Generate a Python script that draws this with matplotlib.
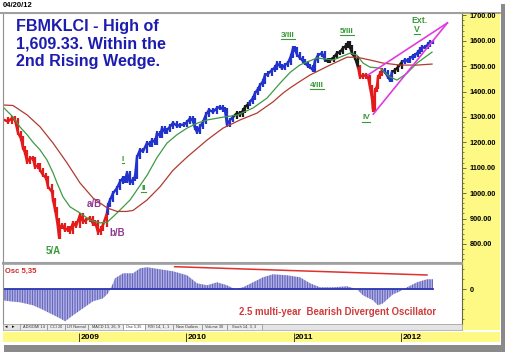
import numpy as np
import matplotlib
matplotlib.use("Agg")
import matplotlib.pyplot as plt
from matplotlib.patches import Rectangle
from matplotlib.lines import Line2D

plt.rcParams['font.family'] = ['Liberation Sans', 'DejaVu Sans']
plt.rcParams['hatch.linewidth'] = 0.6

# FBMKLCI closes, x as fractional year
dates = [2008.292, 2008.339, 2008.376, 2008.404, 2008.432, 2008.460, 2008.479, 2008.497,
         2008.516, 2008.544, 2008.572, 2008.590, 2008.618, 2008.637, 2008.665, 2008.693,
         2008.711, 2008.749, 2008.758, 2008.777, 2008.795, 2008.814, 2008.823, 2008.842,
         2008.870, 2008.898, 2008.916, 2008.944, 2008.972, 2009.009, 2009.037, 2009.065,
         2009.102, 2009.130, 2009.149, 2009.177, 2009.205, 2009.223, 2009.261, 2009.270,
         2009.289, 2009.317, 2009.354, 2009.382, 2009.410, 2009.428, 2009.447, 2009.475,
         2009.503, 2009.521, 2009.540, 2009.568, 2009.596, 2009.633, 2009.661, 2009.680,
         2009.708, 2009.726, 2009.754, 2009.773, 2009.801, 2009.819, 2009.847, 2009.875,
         2009.912, 2009.940, 2009.978, 2010.006, 2010.034, 2010.061, 2010.080, 2010.099,
         2010.127, 2010.155, 2010.183, 2010.210, 2010.248, 2010.285, 2010.313, 2010.341,
         2010.359, 2010.378, 2010.406, 2010.434, 2010.471, 2010.499, 2010.527, 2010.546,
         2010.574, 2010.592, 2010.620, 2010.639, 2010.667, 2010.685, 2010.713, 2010.732,
         2010.760, 2010.797, 2010.825, 2010.844, 2010.872, 2010.890, 2010.918, 2010.946,
         2010.974, 2010.993, 2011.011, 2011.030, 2011.058, 2011.086, 2011.104, 2011.132,
         2011.151, 2011.179, 2011.197, 2011.225, 2011.263, 2011.291, 2011.318, 2011.337,
         2011.374, 2011.402, 2011.430, 2011.458, 2011.486, 2011.505, 2011.523, 2011.542,
         2011.570, 2011.598, 2011.616, 2011.644, 2011.672, 2011.691, 2011.709, 2011.728,
         2011.737, 2011.756, 2011.775, 2011.784, 2011.803, 2011.821, 2011.849, 2011.877,
         2011.896, 2011.914, 2011.942, 2011.970, 2012.007, 2012.035, 2012.063, 2012.082,
         2012.110, 2012.128, 2012.156, 2012.175, 2012.194, 2012.222, 2012.250, 2012.268,
         2012.296]
closes = [1290, 1282, 1295, 1288, 1237, 1215, 1177, 1160,
          1123, 1138, 1135, 1103, 1110, 1091, 1071, 1060,
          1025, 1005, 973, 935, 894, 830, 867, 875,
          855, 862, 850, 883, 870, 914, 887, 895,
          902, 880, 887, 846, 860, 875, 922, 953,
          973, 1000, 1020, 1045, 1060, 1050, 1080, 1040,
          1055, 1063, 1142, 1170, 1165, 1197, 1190, 1209,
          1200, 1236, 1225, 1256, 1240, 1248, 1262, 1276,
          1265, 1268, 1270, 1280, 1295, 1285, 1256, 1240,
          1262, 1280, 1310, 1327, 1320, 1335, 1339, 1330,
          1327, 1270, 1288, 1300, 1315, 1310, 1325, 1339,
          1350, 1359, 1375, 1394, 1410, 1425, 1440, 1465,
          1470, 1485, 1495, 1510, 1500, 1492, 1505, 1512,
          1540, 1571, 1565, 1545, 1532, 1520, 1512, 1500,
          1496, 1484, 1520, 1543, 1551, 1524, 1520, 1524,
          1535, 1551, 1555, 1571, 1580, 1591, 1575, 1551,
          1532, 1496, 1457, 1465, 1460, 1457, 1418, 1374,
          1330, 1406, 1420, 1457, 1470, 1484, 1477, 1457,
          1445, 1477, 1484, 1496, 1516, 1524, 1520, 1532,
          1540, 1543, 1555, 1565, 1575, 1575, 1585, 1595,
          1595]

# bar colouring by trend
trend_start = [2008.0, 2009.27, 2010.46, 2010.58, 2011.31, 2011.60, 2011.83, 2011.92, 2012.02]
trend_color = ['#e41b1b', '#2233cc', '#1a1a1a', '#2233cc', '#1a1a1a', '#e41b1b', '#2233cc', '#1a1a1a', '#2233cc']

# moving averages
ma_fast_x = [2008.292, 2008.385, 2008.451, 2008.516, 2008.572, 2008.637, 2008.702, 2008.758,
             2008.795, 2008.851, 2008.916, 2009.009, 2009.102, 2009.196, 2009.261, 2009.354,
             2009.475, 2009.568, 2009.633, 2009.726, 2009.819, 2009.912, 2010.006, 2010.099,
             2010.192, 2010.341, 2010.471, 2010.620, 2010.750, 2010.872, 2010.965, 2011.058,
             2011.216, 2011.365, 2011.523, 2011.588, 2011.644, 2011.709, 2011.803, 2011.896,
             2011.961, 2012.054, 2012.147, 2012.287]
ma_fast = [1339, 1300, 1260, 1230, 1200, 1170, 1130, 1080,
           1040, 985, 946, 922, 894, 883, 885, 922,
           973, 1030, 1070, 1140, 1197, 1230, 1256, 1275,
           1288, 1299, 1307, 1335, 1374, 1433, 1475, 1505,
           1532, 1524, 1551, 1543, 1512, 1496, 1492, 1457,
           1445, 1472, 1512, 1555]
ma_slow_x = [2008.292, 2008.385, 2008.516, 2008.637, 2008.758, 2008.888, 2009.009, 2009.130,
             2009.261, 2009.354, 2009.447, 2009.503, 2009.633, 2009.754, 2009.875, 2010.006,
             2010.192, 2010.341, 2010.499, 2010.657, 2010.806, 2010.900, 2010.965, 2011.058,
             2011.151, 2011.337, 2011.495, 2011.588, 2011.709, 2011.830, 2011.989, 2012.147,
             2012.287]
ma_slow = [1347, 1345, 1308, 1261, 1197, 1119, 1040, 981,
           942, 928, 928, 932, 973, 1025, 1090, 1142,
           1209, 1256, 1288, 1315, 1359, 1394, 1414, 1440,
           1465, 1504, 1535, 1535, 1524, 1512, 1504, 1504,
           1508]

# rising wedge
wedge_up_x = [2011.69, 2012.43]
wedge_up = [1465, 1670]
wedge_lo_x = [2011.74, 2012.43]
wedge_lo = [1311, 1670]

# oscillator 5,35
osc_x = [2008.292, 2008.357, 2008.451, 2008.572, 2008.655, 2008.730, 2008.823, 2008.870,
         2008.944, 2009.037, 2009.130, 2009.223, 2009.270, 2009.289, 2009.317, 2009.335,
         2009.410, 2009.503, 2009.568, 2009.633, 2009.754, 2009.875, 2010.006, 2010.099,
         2010.192, 2010.285, 2010.378, 2010.453, 2010.527, 2010.620, 2010.713, 2010.806,
         2010.937, 2011.058, 2011.151, 2011.244, 2011.365, 2011.495, 2011.588, 2011.644,
         2011.737, 2011.784, 2011.830, 2011.923, 2011.989, 2012.054, 2012.147, 2012.240,
         2012.296]
osc = [-11, -12, -13, -16, -20, -24, -29, -32,
       -26, -19, -12, -9, -4, 0, 6, 11,
       16, 16, 21, 22, 20, 18, 14, 6,
       4, 7, 4, 0, 2, 7, 12, 15,
       14, 12, 6, 2, 2, 3, 0, -6,
       -11, -16, -14, -5, -2, 2, 7, 10,
       10]
div_x = [2009.89, 2012.24]
div_y = [22.6, 14.3]

# wave labels
wave_text = ['I', 'II', '3/III', '4/III', '5/III', 'IV', 'Ext.', 'V', '5/A', 'a/B', 'b/B']
wave_x = [2009.41, 2009.60, 2010.946, 2011.216, 2011.495, 2011.672, 2012.166, 2012.147, 2008.758, 2009.140, 2009.354]
wave_y = [1134, 1020, 1622, 1425, 1638, 1296, 1681, 1646, 772, 957, 843]
wave_under = [True, True, True, True, True, True, False, True, False, False, False]
wave_color = ['#3a9a3a'] * 9 + ['#8e3a8e', '#8e3a8e']
wave_size = [6, 6, 6, 6, 6, 6, 6.3, 6.3, 7, 7, 7]

years = [2009, 2010, 2011, 2012]
price_ticks = [800, 900, 1000, 1100, 1200, 1300, 1400, 1500, 1600, 1700]
tabs = ['ADX/DMI 14', 'CCI 20', 'LR Normal', 'MACD 13, 26, 9', 'Osc 5,35',
        'RSI 14, 1, 1', 'New Outliers', 'Volume 30', 'Stoch 14, 3, 3']
tab_left = [20, 47, 65, 88, 123, 145, 173, 202, 227, 262]

W, H = 506, 355
fig = plt.figure(figsize=(W / 100, H / 100), dpi=100)


def box(x0, y0, x1, y1):
    # pixel box (top-left origin) -> figure fraction rect
    return [x0 / W, 1 - y1 / H, (x1 - x0) / W, (y1 - y0) / H]


# frame with drop shadow
fig.patches.append(Rectangle((4 / W, 1 - 352 / H), 501 / W, 348 / H, transform=fig.transFigure,
                             fc='#8a8a8a', ec='none', zorder=-3))
fig.patches.append(Rectangle((0, 1 - 345 / H), 501 / W, 345 / H, transform=fig.transFigure,
                             fc='white', ec='none', zorder=-2))

xl = (2008.292, 2012.566)

# yellow price scale
axy = fig.add_axes(box(462, 13, 500, 330), zorder=0)
axy.set_facecolor('#fdf984')
axy.set_xticks([]); axy.set_yticks([])
for s in axy.spines.values():
    s.set_visible(False)

# price panel
ax = fig.add_axes(box(3, 13, 462, 263), zorder=2)
ax.set_xlim(*xl)
ax.set_ylim(725, 1709)
x = np.array(dates)
c = np.array(closes)
cols = [trend_color[np.searchsorted(trend_start, d, side='right') - 1] for d in dates]
for i in range(1, len(x)):
    ax.vlines(x[i], min(c[i - 1], c[i]) - 9, max(c[i - 1], c[i]) + 9, color=cols[i], lw=1.6)
    ax.plot(x[i - 1:i + 1], c[i - 1:i + 1], color=cols[i], lw=1.8, solid_capstyle='butt')
ax.plot(ma_fast_x, ma_fast, color='#3f9a45', lw=0.9)
ax.plot(ma_slow_x, ma_slow, color='#b23a30', lw=0.9)
ax.plot(wedge_up_x, wedge_up, color='#e03be0', lw=1.2)
ax.plot(wedge_lo_x, wedge_lo, color='#e03be0', lw=1.2)

ax.yaxis.tick_right()
ax.set_yticks(price_ticks, ['%.2f' % v for v in price_ticks], fontweight='bold')
ax.set_yticks(np.arange(740, 1709, 20), minor=True)
ax.tick_params(axis='y', which='major', length=3, width=0.6, color='#555533', pad=2.5, labelsize=5.3)
ax.tick_params(axis='y', which='minor', length=1.5, width=0.5, color='#555533')
ax.set_xticks([])
for side in ['top', 'bottom']:
    ax.spines[side].set_color('#a0a0a0')
ax.spines['bottom'].set_linewidth(1.5)
ax.spines['left'].set_color('#909090')
ax.spines['right'].set_color('#666644')
ax.spines['right'].set_linewidth(0.8)

labels = []
for t, lx, ly, u, col, fs in zip(wave_text, wave_x, wave_y, wave_under, wave_color, wave_size):
    labels.append((ax.text(lx, ly, t, color=col, fontsize=fs, fontweight='bold',
                           ha='center', va='center'), u, col))

fig.text(16 / W, 1 - 19.5 / H, 'FBMKLCI - High of\n1,609.33. Within the\n2nd Rising Wedge.',
         color='#1c1cb0', fontsize=11.6, fontweight='bold', va='top', ha='left', linespacing=1.17)

# oscillator panel
ax2 = fig.add_axes(box(3, 264, 462, 324), zorder=2)
ax2.set_xlim(*xl)
ax2.set_ylim(-34.7, 25.3)
ax2.fill_between(osc_x, 0, osc, facecolor='#c9c9ef', edgecolor='#5656b8', hatch='|' * 10, lw=0)
ax2.plot([osc_x[0], osc_x[-1]], [0, 0], color='#2a35b0', lw=1.3)
ax2.plot(div_x, div_y, color='#e03030', lw=1.1)
ax2.text(0.004, 0.93, 'Osc 5,35', transform=ax2.transAxes, color='#d02828', fontsize=5.5,
         fontweight='bold', va='top', ha='left')
ax2.text(2010.49, -22.5, '2.5 multi-year  Bearish Divergent Oscillator', color='#d03a3a',
         fontsize=6.9, fontweight='bold', va='center', ha='left')
ax2.yaxis.tick_right()
ax2.set_yticks([0], ['0'], fontweight='bold')
ax2.set_yticks([-30, -20, -10, 10, 20], minor=True)
ax2.tick_params(axis='y', which='major', length=3, width=0.6, color='#555533', pad=2.5, labelsize=5.3)
ax2.tick_params(axis='y', which='minor', length=1.5, width=0.5, color='#555533')
ax2.set_xticks([])
ax2.spines['top'].set_color('#a0a0a0')
ax2.spines['top'].set_linewidth(1.2)
ax2.spines['bottom'].set_visible(False)
ax2.spines['left'].set_color('#909090')
ax2.spines['right'].set_color('#666644')
ax2.spines['right'].set_linewidth(0.8)

# tab strip
axt = fig.add_axes(box(3, 324, 462, 330), zorder=2)
axt.set_facecolor('#e4e4e4')
axt.set_xlim(3, 462)
axt.set_ylim(0, 1)
axt.set_xticks([]); axt.set_yticks([])
for s in axt.spines.values():
    s.set_color('#9a9a9a'); s.set_linewidth(0.5)
axt.text(6, 0.5, '◂', fontsize=3.5, va='center', ha='center', family='DejaVu Sans')
axt.text(13, 0.5, '▸', fontsize=3.5, va='center', ha='center', family='DejaVu Sans')
for i, name in enumerate(tabs):
    x0, x1 = tab_left[i], tab_left[i + 1]
    fc = 'white' if name == 'Osc 5,35' else '#ececec'
    axt.add_patch(Rectangle((x0, 0.05), x1 - x0, 0.9, fc=fc, ec='#777777', lw=0.4))
    axt.text((x0 + x1) / 2, 0.5, name, fontsize=2.8, va='center', ha='center', color='#333333')

# date bar
axd = fig.add_axes(box(3, 332, 500, 342), zorder=1)
axd.set_facecolor('#fdf984')
axd.set_xlim(2008.292, 2012.920)
axd.set_ylim(0, 1)
axd.set_xticks([]); axd.set_yticks([])
for s in axd.spines.values():
    s.set_visible(False)
for yr in years:
    axd.vlines(yr, 0.05, 0.95, color='#444422', lw=0.7)
    axd.text(yr + 0.012, 0.45, str(yr), fontsize=6, fontweight='bold', va='center', ha='left')

# header
fig.text(3 / W, 1 - 5.5 / H, '04/20/12', fontsize=5.5, fontweight='bold', va='center', ha='left')
fig.add_artist(Line2D([0, 500 / W], [1 - 12.5 / H, 1 - 12.5 / H], color='#8c8c8c', lw=1.2))

# underline the wave counts
fig.canvas.draw()
r = fig.canvas.get_renderer()
for t, u, col in labels:
    if u:
        bb = t.get_window_extent(r)
        yy = (bb.y0 - 0.5) / H
        fig.add_artist(Line2D([bb.x0 / W, bb.x1 / W], [yy, yy], color=col, lw=0.8, zorder=5))

fig.savefig('out.png', dpi=100)
